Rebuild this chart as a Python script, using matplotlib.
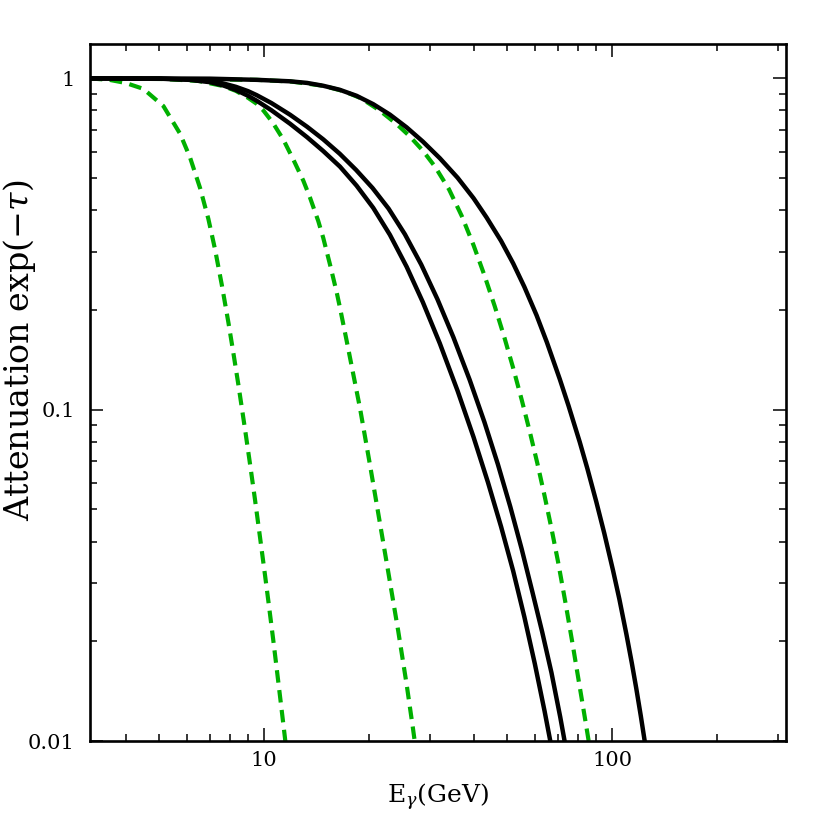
import matplotlib
matplotlib.use("Agg")
import matplotlib.pyplot as plt
from matplotlib.ticker import FixedLocator, NullFormatter, FixedFormatter

plt.rcParams['font.family'] = ['DejaVu Serif']
plt.rcParams['mathtext.fontset'] = 'dejavuserif'

# ---- data ----
green1_E = [3.16, 3.6, 4.0, 4.5, 5.14, 5.74, 6.13, 6.55, 6.92, 7.23, 7.56, 7.9, 8.16,
            8.44, 8.82, 9.12, 9.42, 9.74, 10.07, 10.29, 10.63, 10.88, 11.24, 11.49, 11.8]
green1_A = [1.0, 0.9897, 0.969, 0.930, 0.8249, 0.6805, 0.577, 0.467, 0.3767, 0.3054, 0.2388, 0.1835, 0.149,
            0.119, 0.0873, 0.0684, 0.0536, 0.0412, 0.0316, 0.0265, 0.0202, 0.0165, 0.0124, 0.0102, 0.0079]

green2_E = [3.16, 5.0, 6.5, 7.64, 8.3, 9.0, 9.5, 9.96, 10.6, 11.36, 12.14, 12.97, 13.55, 14.32,
            14.8, 15.46, 16.17, 16.53, 17.28, 18.87, 20.15, 21.5, 22.75, 24.3, 25.7, 26.8, 27.6]
green2_A = [1.0, 0.998, 0.982, 0.948, 0.917, 0.8736, 0.840, 0.80, 0.735, 0.654, 0.569, 0.4914, 0.4375, 0.371,
            0.33, 0.2754, 0.2265, 0.2032, 0.1614, 0.1012, 0.0684, 0.0459, 0.0324, 0.0215, 0.0148, 0.0109, 0.0087]

green3_E = [3.16, 9.53, 12, 14.8, 17, 19, 21.5, 24, 26.2, 28.6, 31, 34, 37, 40, 43, 46, 49,
            52, 55, 58, 61, 64, 67, 70, 73.5, 77, 80.5, 84, 87.5]
green3_A = [1.0, 0.99, 0.978, 0.950, 0.914, 0.871, 0.800, 0.7295, 0.6696, 0.6053, 0.5416, 0.4629, 0.3844,
            0.3139, 0.2544, 0.2057, 0.166, 0.1336, 0.1073, 0.0861, 0.069, 0.055, 0.0438, 0.0347,
            0.02615, 0.0197, 0.01488, 0.01138, 0.00873]

black1_E = [3.16, 5.0, 6.13, 7.0, 7.64, 8.3, 9.0, 9.53, 10.5, 11.88, 13.3, 14.8, 16.53, 18.45,
            20.6, 23.0, 25.7, 28.6, 32, 36, 40, 44, 48, 52, 56, 60, 64, 68]
black1_A = [1.0, 0.998, 0.9897, 0.974, 0.952, 0.9226, 0.886, 0.856, 0.8014, 0.7297, 0.6644, 0.6034, 0.5416, 0.4746,
            0.4067, 0.3373, 0.27, 0.2112, 0.1586, 0.114, 0.0827, 0.0604, 0.04436, 0.0326, 0.02368, 0.01712, 0.01232, 0.00883]

black2_E = [3.16, 5.0, 6.13, 7.0, 7.64, 8.3, 9.0, 9.53, 10.5, 11.88, 13.3, 14.8, 16.5, 18.4, 20.5,
            22.8, 25.4, 28.3, 31.5, 35, 39, 43, 47, 51, 55, 59, 63, 67, 71, 74]
black2_A = [1.0, 0.9986, 0.9925, 0.9806, 0.9654, 0.9432, 0.915, 0.8899, 0.8426, 0.7769, 0.7145, 0.6546, 0.5925, 0.529, 0.467,
            0.4046, 0.3385, 0.2742, 0.2156, 0.1656, 0.123, 0.0917, 0.0684, 0.051, 0.038, 0.02828, 0.02134, 0.01607, 0.01181, 0.0093]

black3_E = [3.16, 5.0, 7.0, 9.53, 11.88, 13.3, 14.8, 16.5, 18.45, 20.6, 23.0, 25.7, 28.6, 32.0, 36.0, 40.0,
            43.6, 48.0, 52.0, 56.0, 60.7, 65.0, 70.8, 75.0, 80.8, 85.0, 90.1, 95.0, 100.7, 105.0, 110.0,
            114.0, 117.4, 121.0, 124.2, 126.0]
black3_A = [1.0, 0.9995, 0.998, 0.99, 0.98, 0.969, 0.950, 0.924, 0.886, 0.836, 0.7775, 0.7114, 0.6448, 0.5744, 0.5014, 0.435,
            0.3805, 0.3232, 0.2764, 0.2348, 0.1928, 0.1597, 0.1236, 0.1028, 0.0798, 0.0663, 0.0528, 0.0424, 0.0327, 0.0268, 0.0210,
            0.0172, 0.01443, 0.0119, 0.00997, 0.0090]

x_ticks = [10, 100]
x_ticklabels = ["10", "100"]
y_ticks = [0.01, 0.1, 1]
y_ticklabels = ["0.01", "0.1", "1"]

# ---- figure ----
fig = plt.figure(figsize=(8.3, 8.3), dpi=100)
ax = fig.add_axes([90/830, 1 - 741/830, (786-90)/830, (741-44)/830])

green = '#00b000'
for E, A in [(green1_E, green1_A), (green2_E, green2_A), (green3_E, green3_A)]:
    ax.plot(E, A, color=green, lw=3.0, linestyle=(0, (3.0, 1.8)),
            dash_capstyle='butt', dash_joinstyle='round', zorder=2)
for E, A in [(black1_E, black1_A), (black2_E, black2_A), (black3_E, black3_A)]:
    ax.plot(E, A, color='black', lw=3.2, solid_capstyle='butt', solid_joinstyle='round', zorder=3)

ax.set_xscale('log')
ax.set_yscale('log')
ax.set_xlim(10**0.5, 10**2.5)
ax.set_ylim(0.01, 1.27)

ax.xaxis.set_major_locator(FixedLocator(x_ticks))
ax.xaxis.set_major_formatter(FixedFormatter(x_ticklabels))
ax.yaxis.set_major_locator(FixedLocator(y_ticks))
ax.yaxis.set_major_formatter(FixedFormatter(y_ticklabels))
xminor = [v * d for d in (1, 10, 100) for v in range(2, 10)]
yminor = [v * d for d in (0.01, 0.1) for v in range(2, 10)]
ax.xaxis.set_minor_locator(FixedLocator(xminor))
ax.yaxis.set_minor_locator(FixedLocator(yminor))
ax.xaxis.set_minor_formatter(NullFormatter())
ax.yaxis.set_minor_formatter(NullFormatter())

ax.tick_params(which='both', direction='in', top=True, right=True, width=1.1, color='black')
ax.tick_params(which='major', length=9.5)
ax.tick_params(which='minor', length=5)
ax.tick_params(axis='x', which='major', labelsize=15, pad=7)
ax.tick_params(axis='y', which='major', labelsize=15, pad=11)

for s in ax.spines.values():
    s.set_linewidth(1.9)

ax.set_xlabel(r'E$_{\gamma}$(GeV)', fontsize=18)
ax.set_ylabel(r'Attenuation exp($-\tau$)', fontsize=24)
ax.xaxis.set_label_coords(0.5, -0.058)
ax.yaxis.set_label_coords(-0.074, 0.56)

fig.savefig('out.png', dpi=100)
